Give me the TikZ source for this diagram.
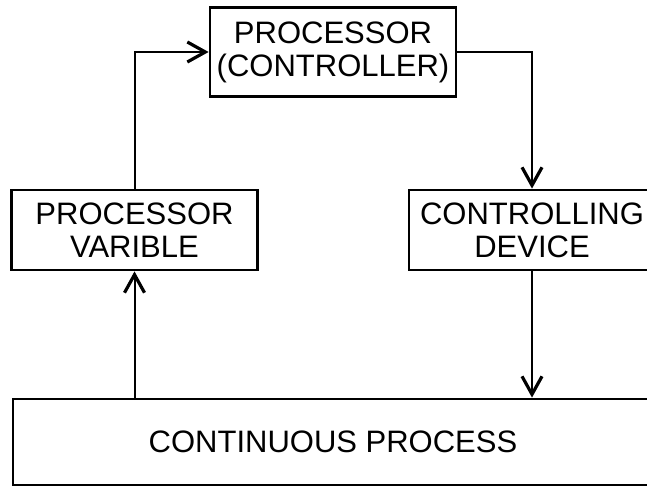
\documentclass[tikz,border=0pt]{standalone}
\usepackage{fontspec}
\setmainfont{Liberation Sans}
\usetikzlibrary{arrows.meta}
\tikzstyle{block} = [rectangle, 
draw=black, 
line width=2.8pt,
minimum width=246pt, 
minimum height=80pt,
inner sep=2pt,
align=center,
font=\fontsize{31}{33}\selectfont]
\tikzstyle{wide} = [block, 
minimum width=640pt, 
minimum height=86pt]
\tikzstyle{line} = [line width=2pt]
\tikzstyle{arrow} = [line, -{Straight Barb[length=18pt,width=20pt,line width=3.2pt]}]

\begin{document}
\begin{tikzpicture}[x=1pt, y=1pt]
		\clip (0,0) rectangle (647,-487);
		\node (ctrl) [block, minimum height=89pt] at (333,-52) {PROCESSOR\\(CONTROLLER)};
		\node (dev) [block, node distance=178pt, below of=ctrl, xshift=199pt] {CONTROLLING\\DEVICE};
		\node (var) [block, node distance=397.5pt, left of=dev] {PROCESSOR\\VARIBLE};
		\node (proc) [wide, node distance=390pt, below of=ctrl] {CONTINUOUS PROCESS};
		\draw [arrow] (var.north) |- (ctrl.west);
		\draw [arrow] (ctrl.east) -| (dev.north);
		\draw [arrow] (dev.south) -- (dev.south |- proc.north);
		\draw [arrow] (var.south |- proc.north) -- (var.south);
	\end{tikzpicture}
\end{document}
